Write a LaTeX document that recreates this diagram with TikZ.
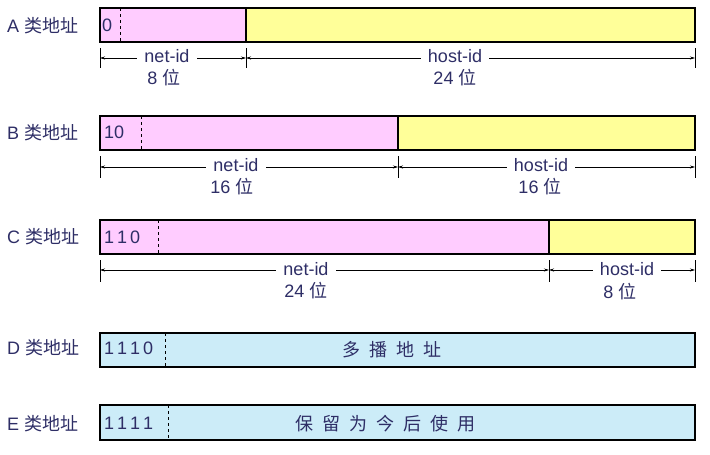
\documentclass[tikz,border=0pt]{standalone}
\usepackage{fontspec}
\setmainfont{Liberation Sans}
\newfontfamily\cjk{Noto Sans CJK SC}
\usetikzlibrary{arrows.meta}
\definecolor{pinkc}{HTML}{FFCCFF}
\definecolor{yelc}{HTML}{FFFF99}
\definecolor{bluec}{HTML}{CCECF8}
\definecolor{txtc}{HTML}{2E2E66}
\tikzset{fld/.style={draw=black,line width=1.2pt},
 dv/.style={dashed,line width=0.6pt},
 lbl/.style={font=\fontsize{18}{20}\selectfont,inner sep=1pt,text=txtc},
 cut/.style={lbl,fill=white,inner xsep=7pt},
 dim/.style={line width=0.6pt,{Stealth[length=5pt,width=3pt]}-{Stealth[length=5pt,width=3pt]}},
 tk/.style={line width=0.6pt}}
\begin{document}
\begin{tikzpicture}[x=1pt,y=-1pt]
\useasboundingbox[fill=white] (0,0) rectangle (710,455);
% A
\node[lbl,anchor=west] (la) at (6,26) {A {\cjk 类地址}};
\fill[pinkc] (100,8) rectangle (246,42); \fill[yelc] (246,8) rectangle (695,42);
\draw[fld] (100,8) rectangle (695,42); \draw[fld] (246,8)--(246,42);
\draw[dv] (120,8)--(120,42); \node[lbl,anchor=west] at (101,25) {0};
\foreach \x in {100,246,695}\draw[tk] (\x,48)--(\x,68);
\draw[dim] (100,58)--(246,58); \node[cut] at (167,56) {net-id}; \node[lbl] at (164,78) {8 {\cjk 位}};
\draw[dim] (246,58)--(695,58); \node[cut] at (455,56) {host-id}; \node[lbl] at (455,78) {24 {\cjk 位}};
% B
\node[lbl,anchor=west] at (6,133) {B {\cjk 类地址}};
\fill[pinkc] (100,116) rectangle (398,150); \fill[yelc] (398,116) rectangle (695,150);
\draw[fld] (100,116) rectangle (695,150); \draw[fld] (398,116)--(398,150);
\draw[dv] (141,116)--(141,150); \node[lbl,anchor=west] at (103,132) {10};
\foreach \x in {100,398,695}\draw[tk] (\x,156)--(\x,178);
\draw[dim] (100,167)--(398,167); \node[cut] at (236,165) {net-id}; \node[lbl] at (232,187) {16 {\cjk 位}};
\draw[dim] (398,167)--(695,167); \node[cut] at (541,165) {host-id}; \node[lbl] at (540,187) {16 {\cjk 位}};
% C
\node[lbl,anchor=west] at (6,237) {C {\cjk 类地址}};
\fill[pinkc] (100,220) rectangle (549,254); \fill[yelc] (549,220) rectangle (695,254);
\draw[fld] (100,220) rectangle (695,254); \draw[fld] (549,220)--(549,254);
\draw[dv] (158,220)--(158,254); \node[lbl,anchor=west] at (103,237) {1\,1\,0};
\foreach \x in {100,549,695}\draw[tk] (\x,260)--(\x,282);
\draw[dim] (100,270)--(549,270); \node[cut] at (306,269) {net-id}; \node[lbl] at (306,291) {24 {\cjk 位}};
\draw[dim] (549,270)--(695,270); \node[cut] at (627,269) {host-id}; \node[lbl] at (620,292) {8 {\cjk 位}};
% D
\node[lbl,anchor=west] at (6,348) {D {\cjk 类地址}};
\fill[bluec] (100,333) rectangle (695,367);
\draw[fld] (100,333) rectangle (695,367);
\draw[dv] (165,333)--(165,367); \node[lbl,anchor=west] at (103,348) {1\,1\,1\,0};
\node[lbl] at (392,350) {\cjk 多\hspace{9pt}播\hspace{9pt}地\hspace{9pt}址};
% E
\node[lbl,anchor=west] at (6,424) {E {\cjk 类地址}};
\fill[bluec] (100,405) rectangle (695,440);
\draw[fld] (100,405) rectangle (695,440);
\draw[dv] (168,405)--(168,440); \node[lbl,anchor=west] at (103,423) {1\,1\,1\,1};
\node[lbl] at (385,424) {\cjk 保\hspace{9pt}留\hspace{9pt}为\hspace{9pt}今\hspace{9pt}后\hspace{9pt}使\hspace{9pt}用};
\end{tikzpicture}
\end{document}
